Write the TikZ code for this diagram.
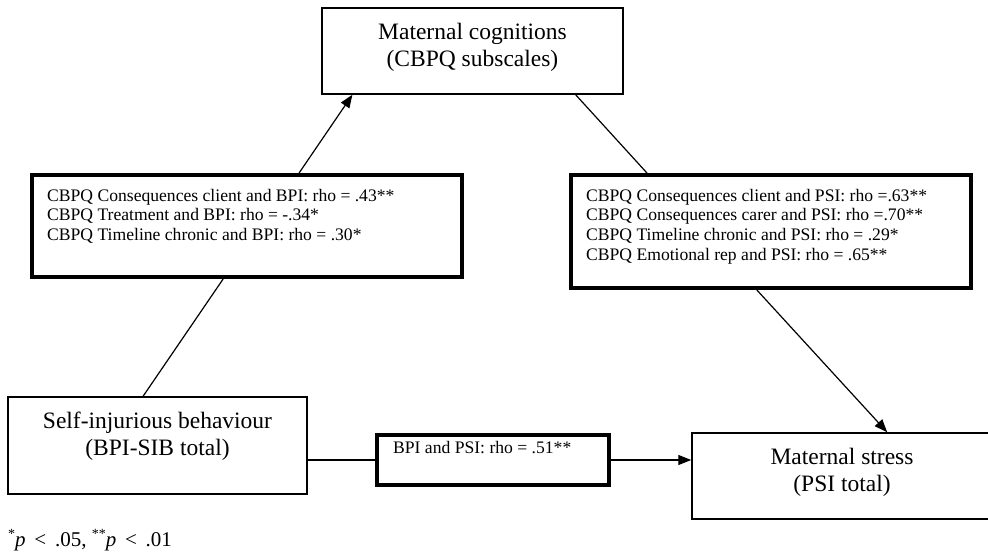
\documentclass[tikz,border=0pt]{standalone}
\usepackage{fontspec}
\setmainfont{Liberation Serif}
\usetikzlibrary{arrows.meta,calc}
\newcommand{\supast}[1]{\raisebox{0.38em}{\fontsize{14}{14}\selectfont #1}}
\tikzset{
  thinbox/.style={draw, line width=1.5pt, rectangle, inner sep=0pt},
  thickbox/.style={draw, line width=4pt, rectangle, inner sep=0pt},
  bigtext/.style={inner sep=0pt, anchor=base, align=center, font=\fontsize{23.5}{27}\selectfont},
  smalltext/.style={inner sep=0pt, anchor=base west, align=left, font=\fontsize{17.6}{19.7}\selectfont},
  conn/.style={line width=1.2pt},
  arr/.style={conn, -{Triangle[length=13pt,width=10pt]}}
}
\begin{document}
\begin{tikzpicture}[x=1pt,y=-1pt]
\useasboundingbox (0,0) rectangle (988,552);
% boxes
\node[thinbox, minimum width=301pt, minimum height=86pt] (mc) at (472.5,51) {};
\node[thickbox, minimum width=430pt, minimum height=102pt] (lb) at (247,226) {};
\node[thickbox, minimum width=400pt, minimum height=113pt] (rb) at (771,231.5) {};
\node[thinbox, minimum width=299pt, minimum height=97pt] (sib) at (157.5,445.5) {};
\node[thickbox, minimum width=232pt, minimum height=50pt] (mb) at (493,460) {};
\node[thinbox, minimum width=300pt, minimum height=86pt] (st) at (842,476) {};
% texts (anchor = baseline of the last line)
\node[bigtext] (mct) at (472.5,66) {Maternal cognitions\\(CBPQ subscales)};
\node[bigtext] (sibt) at (157.5,455) {Self-injurious behaviour\\(BPI-SIB total)};
\node[bigtext] (stt) at (842,491) {Maternal stress\\(PSI total)};
\node[smalltext] (lbt) at (47,240.4) {CBPQ Consequences client and BPI: rho = .43**\\CBPQ Treatment and BPI: rho = -.34*\\CBPQ Timeline chronic and BPI: rho = .30*};
\node[smalltext] (rbt) at (586,260.1) {CBPQ Consequences client and PSI: rho =.63**\\CBPQ Consequences carer and PSI: rho =.70**\\CBPQ Timeline chronic and PSI: rho = .29*\\CBPQ Emotional rep and PSI: rho = .65**};
\node[smalltext] (mbt) at (393,453) {BPI and PSI: rho = .51**};
\node[smalltext, font=\fontsize{21}{24}\selectfont] (fn) at (8,546) {\supast{*}\textit{p}\, < \,.05, \supast{**}\textit{p}\, < \,.01};
% connectors
\draw[arr] ($(lb.north west)!0.62!(lb.north east)$) -- ($(mc.south west)!0.103!(mc.south east)$);
\draw[conn] ($(lb.south west)!0.445!(lb.south east)$) -- ($(sib.north west)!0.452!(sib.north east)$);
\draw[conn] ($(mc.south west)!0.841!(mc.south east)$) -- ($(rb.north west)!0.193!(rb.north east)$);
\draw[arr] ($(rb.south west)!0.465!(rb.south east)$) -- ($(st.north west)!0.65!(st.north east)$);
\draw[conn] (mb.west -| sib.east) -- (mb.west);
\draw[arr] (mb.east) -- (mb.east -| st.west);
\end{tikzpicture}
\end{document}
